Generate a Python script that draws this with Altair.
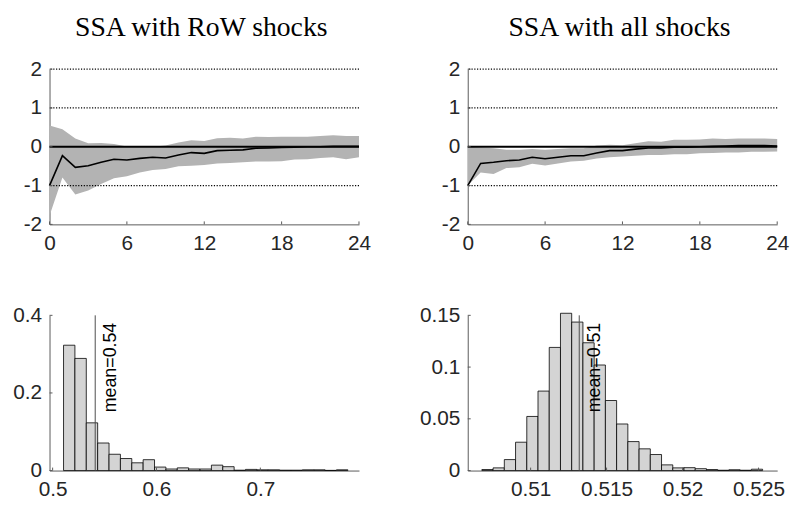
import altair as alt
import pandas as pd
import numpy as np

# ---------------- data ----------------
horizon = list(range(25))

row_irf = [-1.00, -0.23, -0.53, -0.49, -0.40, -0.32, -0.34, -0.30, -0.27, -0.29, -0.21, -0.15, -0.17,
           -0.10, -0.09, -0.08, -0.04, -0.03, -0.02, -0.01, 0.00, 0.00, 0.01, 0.01, 0.01]
row_hi = [0.55, 0.45, 0.21, 0.09, 0.10, 0.07, 0.01, 0.00, 0.00, 0.03, 0.11, 0.17, 0.15,
          0.22, 0.23, 0.21, 0.26, 0.25, 0.26, 0.26, 0.26, 0.28, 0.30, 0.28, 0.28]
row_lo = [-1.78, -0.79, -1.23, -1.13, -0.96, -0.81, -0.76, -0.66, -0.60, -0.57, -0.50, -0.49, -0.47,
          -0.43, -0.42, -0.40, -0.38, -0.38, -0.37, -0.33, -0.32, -0.29, -0.27, -0.32, -0.27]

all_irf = [-1.00, -0.43, -0.40, -0.36, -0.34, -0.27, -0.31, -0.27, -0.23, -0.23, -0.16, -0.10, -0.10,
           -0.06, -0.03, -0.03, -0.01, -0.01, 0.00, 0.01, 0.02, 0.03, 0.03, 0.03, 0.02]
all_hi = [0.00, -0.02, -0.04, -0.08, -0.08, -0.06, -0.08, -0.06, -0.04, -0.04, 0.03, 0.05, 0.04,
          0.09, 0.14, 0.13, 0.18, 0.18, 0.19, 0.21, 0.20, 0.21, 0.21, 0.21, 0.20]
all_lo = [-1.00, -0.66, -0.70, -0.55, -0.53, -0.44, -0.48, -0.43, -0.38, -0.36, -0.30, -0.27, -0.25,
          -0.23, -0.21, -0.21, -0.19, -0.19, -0.17, -0.16, -0.15, -0.15, -0.13, -0.13, -0.12]

irf_x_ticks = [0, 6, 12, 18, 24]
irf_y_ticks = [-2, -1, 0, 1, 2]
dotted_levels = [2, 1, -1]

hist_row_p = [0.323, 0.289, 0.123, 0.071, 0.042, 0.031, 0.020, 0.028, 0.009, 0.004, 0.007, 0.004, 0.004,
              0.014, 0.010, 0.001, 0.003, 0.002, 0.002, 0.001, 0.001, 0.002, 0.002, 0.0005, 0.002]
hist_row_range = [0.5105, 0.7843]
hist_row_mean = 0.541
hist_row_label = "mean=0.54"
hist_row_xticks = [0.5, 0.6, 0.7]
hist_row_yticks = [0, 0.2, 0.4]

hist_all_p = [0.001, 0.0026, 0.0106, 0.0274, 0.0523, 0.0768, 0.119, 0.152, 0.1435, 0.1235, 0.102, 0.0677,
              0.045, 0.028, 0.021, 0.0155, 0.0055, 0.0026, 0.0028, 0.0018, 0.001, 0.0003, 0.0008, 0.0003, 0.0013]
hist_all_range = [0.50679, 0.52527]
hist_all_mean = 0.5132
hist_all_label = "mean=0.51"
hist_all_xticks = [0.51, 0.515, 0.52, 0.525]
hist_all_yticks = [0, 0.05, 0.1, 0.15]

titles = ["SSA with RoW shocks", "SSA with all shocks"]

# ---------------- style ----------------
W, H = 313, 157
HB = 157
AX = "#5a5a5a"
LABEL_FONT = "Liberation Sans"


def axis(values):
    return alt.Axis(values=values, labelExpr="toString(datum.value)", title=None)


def irf_panel(title, irf, lo, hi):
    df = pd.DataFrame({"h": horizon, "irf": irf, "lo": lo, "hi": hi})
    xs = alt.Scale(domain=[0, 24], nice=False, zero=False)
    ys = alt.Scale(domain=[-2, 2], nice=False)
    X = lambda f: alt.X(f, type="quantitative", scale=xs, axis=axis(irf_x_ticks))
    Y = lambda f: alt.Y(f, type="quantitative", scale=ys, axis=axis(irf_y_ticks))

    band = alt.Chart(df).mark_area(color="#b3b3b3", opacity=1).encode(
        x=X("h"), y=Y("lo"), y2="hi:Q")
    dotted = alt.Chart(pd.DataFrame({"lvl": dotted_levels})).mark_rule(
        color="black", strokeWidth=1.3, strokeDash=[1.2, 1.6]).encode(y=Y("lvl"))
    zero = alt.Chart(pd.DataFrame({"lvl": [0]})).mark_rule(
        color="black", strokeWidth=2).encode(y=Y("lvl"))
    line = alt.Chart(df).mark_line(color="black", strokeWidth=1.6).encode(x=X("h"), y=Y("irf"))
    xt = alt.Chart(pd.DataFrame({"t": irf_x_ticks})).mark_rule(color=AX).encode(
        x=X("t"), y=alt.value(H), y2=alt.value(H - 3))
    yt = alt.Chart(pd.DataFrame({"t": irf_y_ticks})).mark_rule(color=AX).encode(
        y=Y("t"), x=alt.value(0), x2=alt.value(3))
    return alt.layer(band, dotted, zero, line, xt, yt).properties(
        width=W, height=H,
        title=alt.TitleParams(title, font="Liberation Serif", fontSize=28, fontWeight="normal",
                              color="black", anchor="middle", frame="group", offset=17, dx=-3))


def hist_panel(p, rng, mean, label, xticks, yticks, xdom, ydom):
    edges = np.linspace(rng[0], rng[1], len(p) + 1)
    df = pd.DataFrame({"lo": edges[:-1], "hi": edges[1:], "p": p})
    xs = alt.Scale(domain=xdom, nice=False, zero=False)
    ys = alt.Scale(domain=ydom, nice=False)
    X = lambda f: alt.X(f, type="quantitative", scale=xs, axis=axis(xticks))
    Y = lambda f: alt.Y(f, type="quantitative", scale=ys, axis=axis(yticks))

    bars = alt.Chart(df).mark_rect(fill="#d4d4d4", stroke="black", strokeWidth=0.8).encode(
        x=X("lo"), x2="hi:Q", y=Y("p"), y2=alt.datum(0))
    mline = alt.Chart(pd.DataFrame({"m": [mean]})).mark_rule(color="#4d4d4d", strokeWidth=1).encode(
        x=X("m"), y=alt.value(0), y2=alt.value(HB))
    mtext = alt.Chart(pd.DataFrame({"m": [mean], "txt": [label]})).mark_text(
        angle=270, align="left", baseline="middle", dy=16, font=LABEL_FONT, fontSize=18,
        color="black").encode(x=X("m"), y=alt.value(98), text="txt:N")
    xt = alt.Chart(pd.DataFrame({"t": xticks})).mark_rule(color=AX).encode(
        x=X("t"), y=alt.value(HB), y2=alt.value(HB - 3))
    yt = alt.Chart(pd.DataFrame({"t": yticks})).mark_rule(color=AX).encode(
        y=Y("t"), x=alt.value(0), x2=alt.value(3))
    return alt.layer(bars, mline, mtext, xt, yt).properties(width=W, height=HB)


tl = irf_panel(titles[0], row_irf, row_lo, row_hi)
tr = irf_panel(titles[1], all_irf, all_lo, all_hi)
bl = hist_panel(hist_row_p, hist_row_range, hist_row_mean, hist_row_label,
                hist_row_xticks, hist_row_yticks, [0.497, 0.795], [0, 0.4])
br = hist_panel(hist_all_p, hist_all_range, hist_all_mean, hist_all_label,
                hist_all_xticks, hist_all_yticks, [0.50586, 0.52623], [0, 0.15])

chart = alt.concat(tl, tr, bl, br, columns=2, spacing={"row": 92, "column": 110},
                   bounds="flush").configure_view(
    stroke=None
).configure_axis(
    grid=False, ticks=False, domainColor=AX, domainWidth=1,
    labelFont=LABEL_FONT, labelFontSize=21, labelColor="#262626", labelPadding=8,
    labelFlush=False, labelOverlap=False
).properties(padding={"left": 4, "top": 3, "right": 5, "bottom": 5})

chart.save("out.html", embed_options={"renderer": "svg", "actions": False})
